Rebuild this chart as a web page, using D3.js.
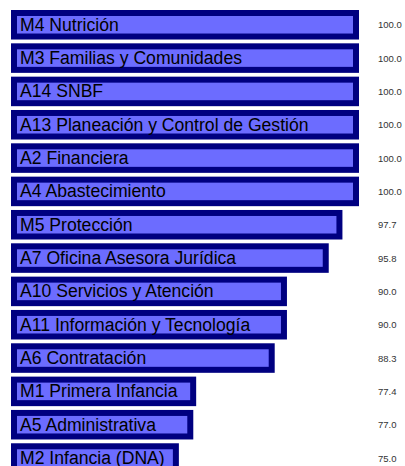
<!DOCTYPE html>
<html>
<head>
<meta charset="utf-8">
<script src="https://cdn.jsdelivr.net/npm/d3@7"></script>
<style>
  body { margin: 0; background: #fff; }
  svg { display: block; }
</style>
</head>
<body>
<svg id="chart"></svg>
<script>
const areas = [
  'M4 Nutrición',
  'M3 Familias y Comunidades',
  'A14 SNBF',
  'A13 Planeación y Control de Gestión',
  'A2 Financiera',
  'A4 Abastecimiento',
  'M5 Protección',
  'A7 Oficina Asesora Jurídica',
  'A10 Servicios y Atención',
  'A11 Información y Tecnología',
  'A6 Contratación',
  'M1 Primera Infancia',
  'A5 Administrativa',
  'M2 Infancia (DNA)'
]
const scores = [100.0, 100.0, 100.0, 100.0, 100.0, 100.0, 97.7, 95.8, 90.0, 90.0, 88.3, 77.4, 77.0, 75.0]

const width = 405, height = 466
const border = 6

const svg = d3.select('#chart')
  .attr('width', width)
  .attr('height', height)

const x = d3.scaleLinear()
  .domain([51.7, 100])
  .range([11, 359])

const y = d3.scaleBand()
  .domain(areas)
  .range([10, 472.8])
  .paddingInner(0.114)
  .paddingOuter(0)

const rows = svg.selectAll('g.row')
  .data(areas)
  .enter()
  .append('g')
  .attr('class', 'row')

// outer navy frame
rows.append('rect')
  .attr('x', x(51.7))
  .attr('y', d => y(d))
  .attr('width', (d, i) => x(scores[i]) - x(51.7))
  .attr('height', y.bandwidth())
  .attr('fill', '#000080')

// inner fill
rows.append('rect')
  .attr('x', x(51.7) + border)
  .attr('y', d => y(d) + border)
  .attr('width', (d, i) => x(scores[i]) - x(51.7) - 2 * border)
  .attr('height', y.bandwidth() - 2 * border)
  .attr('fill', '#6c6cff')

rows.append('text')
  .attr('x', 20)
  .attr('y', d => y(d) + y.bandwidth() / 2 + 6)
  .attr('font-family', 'Liberation Sans, Arial, sans-serif')
  .attr('font-size', '17.6px')
  .attr('fill', '#000')
  .text(d => d)

rows.append('text')
  .attr('x', 378)
  .attr('y', d => y(d) + y.bandwidth() / 2 + 3.5)
  .attr('font-family', 'Liberation Sans, Arial, sans-serif')
  .attr('font-size', '9.5px')
  .attr('fill', '#333')
  .text((d, i) => scores[i].toFixed(1))
</script>
</body>
</html>
